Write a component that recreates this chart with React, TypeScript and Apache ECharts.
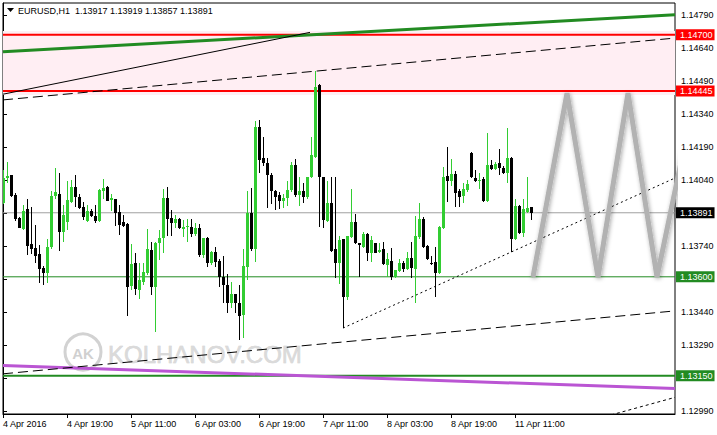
import { useEffect, useRef } from "react";
import * as echarts from "echarts";

// ---- time axis ----
const timeLabels = ["4 Apr 2016", "4 Apr 19:00", "5 Apr 11:00", "6 Apr 03:00", "6 Apr 19:00", "7 Apr 11:00", "8 Apr 03:00", "8 Apr 19:00", "11 Apr 11:00"];
const LABEL_STEP = 16;
const SLOT_COUNT = 169;

// ---- H1 candles (open / high / low / close) ----
const opens = [1.13935,1.14049,1.14063,1.13972,1.13867,1.13817,1.13908,1.13749,1.13731,1.13704,1.13640,1.13617,1.13735,1.13967,1.13976,1.13804,1.13849,1.13940,1.14008,1.13963,1.13917,1.13854,1.13899,1.13876,1.13854,1.13990,1.14008,1.13949,1.13954,1.13895,1.13849,1.13840,1.13558,1.13663,1.13540,1.13576,1.13617,1.13722,1.13554,1.13754,1.13776,1.13958,1.13867,1.13845,1.13863,1.13817,1.13826,1.13826,1.13795,1.13822,1.13699,1.13776,1.13663,1.13713,1.13672,1.13599,1.13563,1.13481,1.13522,1.13481,1.13426,1.13645,1.13890,1.13726,1.14281,1.14140,1.14117,1.14063,1.13990,1.13972,1.13945,1.13958,1.13995,1.14108,1.13972,1.13990,1.13963,1.14054,1.14145,1.14472,1.14054,1.13854,1.13935,1.13726,1.13663,1.13772,1.13508,1.13781,1.13849,1.13754,1.13735,1.13795,1.13708,1.13754,1.13713,1.13726,1.13654,1.13672,1.13599,1.13626,1.13663,1.13635,1.13685,1.13635,1.13781,1.13863,1.13740,1.13663,1.13667,1.13617,1.13822,1.14058,1.14035,1.14067,1.13990,1.13967,1.13995,1.14163,1.14049,1.14035,1.14045,1.13945,1.14108,1.14090,1.14117,1.14095,1.14072,1.14140,1.13772,1.13922,1.13799,1.13895,1.13917];
const highs = [1.14085,1.14122,1.14063,1.13981,1.13872,1.13926,1.13954,1.13917,1.13835,1.13745,1.13649,1.13772,1.13990,1.14095,1.14072,1.13926,1.14035,1.14040,1.14063,1.13976,1.13940,1.13926,1.13908,1.13926,1.13999,1.14045,1.14013,1.13976,1.13954,1.13926,1.13881,1.13845,1.13749,1.13708,1.13663,1.13663,1.13817,1.13758,1.13758,1.13813,1.13999,1.14008,1.13904,1.13881,1.13867,1.13858,1.13863,1.13863,1.13845,1.13840,1.13776,1.13781,1.13717,1.13735,1.13681,1.13695,1.13613,1.13576,1.13522,1.13563,1.13726,1.13990,1.14004,1.14308,1.14313,1.14235,1.14140,1.14072,1.13995,1.13985,1.13976,1.14035,1.14122,1.14135,1.14054,1.14026,1.14054,1.14235,1.14535,1.14476,1.14054,1.14035,1.14054,1.14054,1.13785,1.13772,1.13785,1.13999,1.13885,1.13754,1.13804,1.13799,1.13785,1.13754,1.13754,1.13758,1.13708,1.13731,1.13631,1.13681,1.13672,1.13713,1.13758,1.13876,1.13935,1.13872,1.13745,1.13695,1.13735,1.13831,1.14099,1.14190,1.14135,1.14081,1.13999,1.14026,1.14040,1.14167,1.14085,1.14072,1.14054,1.14254,1.14131,1.14122,1.14181,1.14104,1.14276,1.14145,1.13954,1.13926,1.13954,1.14054,1.13919];
const lows = [1.13931,1.14026,1.13963,1.13854,1.13822,1.13813,1.13699,1.13704,1.13663,1.13572,1.13563,1.13572,1.13726,1.13954,1.13717,1.13758,1.13813,1.13935,1.13917,1.13908,1.13858,1.13849,1.13872,1.13845,1.13849,1.13954,1.13945,1.13899,1.13831,1.13790,1.13826,1.13422,1.13540,1.13517,1.13499,1.13563,1.13608,1.13517,1.13349,1.13676,1.13708,1.13785,1.13785,1.13822,1.13817,1.13781,1.13758,1.13781,1.13785,1.13690,1.13685,1.13645,1.13654,1.13645,1.13554,1.13481,1.13435,1.13458,1.13435,1.13313,1.13322,1.13585,1.13717,1.13667,1.14072,1.14104,1.13913,1.13931,1.13904,1.13908,1.13913,1.13922,1.13985,1.13963,1.13922,1.13935,1.13954,1.14049,1.14140,1.13826,1.13822,1.13849,1.13713,1.13595,1.13567,1.13367,1.13495,1.13776,1.13749,1.13599,1.13731,1.13672,1.13667,1.13708,1.13708,1.13654,1.13599,1.13585,1.13595,1.13622,1.13622,1.13631,1.13595,1.13481,1.13772,1.13731,1.13676,1.13654,1.13508,1.13613,1.13817,1.13940,1.14013,1.13917,1.13917,1.13935,1.13985,1.14049,1.14031,1.13999,1.13940,1.13940,1.14085,1.14085,1.14063,1.14067,1.14026,1.13713,1.13767,1.13795,1.13781,1.13890,1.13857];
const closes = [1.14049,1.14058,1.13967,1.13863,1.13822,1.13899,1.13740,1.13726,1.13695,1.13635,1.13617,1.13735,1.13967,1.13985,1.13804,1.13881,1.13949,1.14008,1.13963,1.13913,1.13872,1.13899,1.13876,1.13854,1.13995,1.14004,1.13945,1.13958,1.13890,1.13835,1.13831,1.13554,1.13658,1.13545,1.13585,1.13622,1.13726,1.13554,1.13754,1.13776,1.13958,1.13863,1.13845,1.13863,1.13822,1.13826,1.13831,1.13795,1.13822,1.13699,1.13776,1.13663,1.13713,1.13667,1.13599,1.13563,1.13481,1.13522,1.13481,1.13422,1.13649,1.13890,1.13726,1.14281,1.14131,1.14117,1.14063,1.13990,1.13963,1.13945,1.13958,1.13995,1.14108,1.13972,1.13990,1.13963,1.14054,1.14154,1.14463,1.14054,1.13858,1.13935,1.13717,1.13663,1.13767,1.13508,1.13785,1.13849,1.13754,1.13745,1.13795,1.13708,1.13767,1.13708,1.13722,1.13658,1.13681,1.13599,1.13631,1.13663,1.13635,1.13685,1.13640,1.13785,1.13863,1.13735,1.13681,1.13658,1.13617,1.13826,1.14054,1.14035,1.14067,1.13981,1.13963,1.13999,1.14022,1.14054,1.14035,1.14040,1.13945,1.14108,1.14090,1.14113,1.14095,1.14072,1.14140,1.13772,1.13922,1.13799,1.13908,1.13913,1.13891];

// ---- price axis ----
const priceTicks = [1.1299, 1.1314, 1.1329, 1.1344, 1.1359, 1.1374, 1.1389, 1.1404, 1.1419, 1.1434, 1.1449, 1.1464, 1.1479];
const Y_MIN = 1.129764;
const Y_MAX = 1.148445;

// ---- horizontal levels & zone ----
const levelPrices = [1.147, 1.14445, 1.13891, 1.136, 1.1315];
const zoneTop = 1.14717;
const zoneBottom = 1.14426;

// ---- drawn objects: [bar index, price] ----
const greenTrend = [[0, 1.14623], [168, 1.14791]];
const thinTrend = [[0, 1.1443], [76.75, 1.14711]];
const upperChannel = [[0, 1.14404], [168, 1.14685]];
const lowerChannel = [[0, 1.13159], [168, 1.13445]];
const supportTrend = [[85, 1.13367], [168, 1.14049]];
const lowerDotted = [[152, 1.12972], [168, 1.13052]];
const magentaTrend = [[0, 1.13197], [168, 1.13092]];
const projection = [[132.5, 1.13599], [141, 1.14435], [148.75, 1.13599], [156.25, 1.14435], [163.5, 1.13599], [170.25, 1.14185]];

const FONT = "Liberation Sans, Arial, sans-serif";

export default function App() {
  const ref = useRef<HTMLDivElement>(null);
  useEffect(() => {
    if (!ref.current) return;
    const chart = echarts.init(ref.current, undefined, { renderer: "svg" });
    const slots = Array.from({ length: SLOT_COUNT }, (_, i) => String(i));
    const candles = opens.map((o, i) => [i, o, closes[i], lows[i], highs[i]]);
    const isLabelSlot = (index: number) => index % LABEL_STEP === 0 && index / LABEL_STEP < timeLabels.length;
    // tick labels hidden behind a level's price box in the reference
    const visibleTickLabels = priceTicks.filter((t) => !levelPrices.some((p) => Math.abs(p - t) < 0.0003));

    const levelLine = ["#FF0000", "#FF0000", "#A0A0A0", "#228B22", "#228B22"];
    const levelWidth = [2, 2, 1, 1, 2];
    const levelBox = ["#FF0000", "#FF0000", "#000000", "#228B22", "#228B22"];

    const trend = (data: number[][], color: string, width: number, type: any, z = 3) => ({
      type: "line",
      xAxisIndex: 1,
      yAxisIndex: 0,
      data,
      symbol: "none",
      silent: true,
      z,
      lineStyle: { color, width, type },
      emphasis: { disabled: true },
    });

    const levelSeries = levelPrices.map((p, i) => ({
      type: "line",
      xAxisIndex: 1,
      yAxisIndex: 0,
      data: [[0, p], [SLOT_COUNT - 1, p]],
      symbol: "none",
      silent: true,
      z: 2,
      lineStyle: { color: levelLine[i], width: levelWidth[i], type: "solid" },
      emphasis: { disabled: true },
      endLabel: {
        show: true,
        distance: 1,
        formatter: () => p.toFixed(5),
        color: "#fff",
        backgroundColor: levelBox[i],
        fontSize: 9,
        fontFamily: FONT,
        lineHeight: 10,
        padding: [1, 2, 0, 4],
      },
    }));

    const renderCandle = (_params: any, api: any) => {
      const idx = api.value(0);
      const o = api.value(1);
      const c = api.value(2);
      const l = api.value(3);
      const h = api.value(4);
      const pO = api.coord([idx, o]);
      const pC = api.coord([idx, c]);
      const pL = api.coord([idx, l]);
      const pH = api.coord([idx, h]);
      const x = Math.round(pO[0]);
      const color = c > o ? "#32CD32" : "#000000";
      const top = Math.round(Math.min(pO[1], pC[1]));
      const bot = Math.round(Math.max(pO[1], pC[1]));
      const hy = Math.round(pH[1]);
      const ly = Math.round(pL[1]);
      return {
        type: "group",
        children: [
          { type: "rect", shape: { x, y: hy, width: 1, height: Math.max(1, ly - hy) }, style: { fill: color } },
          { type: "rect", shape: { x: x - 1, y: top, width: 3, height: Math.max(1, bot - top) }, style: { fill: color } },
        ],
      };
    };

    const option: any = {
      animation: false,
      backgroundColor: "#ffffff",
      textStyle: { fontFamily: FONT },
      title: {
        text: "EURUSD,H1  1.13917 1.13919 1.13857 1.13891",
        left: 18,
        top: 6,
        padding: 0,
        textStyle: { fontSize: 9, fontWeight: "normal", color: "#000", fontFamily: FONT },
      },
      grid: { left: 3, right: 42, top: 3, bottom: 21, show: true, borderColor: "#000", borderWidth: 1, backgroundColor: "transparent" },
      xAxis: [
        {
          type: "category",
          data: slots,
          boundaryGap: false,
          axisLine: { show: true, lineStyle: { color: "#000", width: 1 } },
          axisTick: { show: true, interval: isLabelSlot, length: 4, lineStyle: { color: "#000" } },
          axisLabel: {
            interval: isLabelSlot,
            formatter: (_v: string, i: number) => timeLabels[i / LABEL_STEP] ?? "",
            align: "left",
            color: "#000",
            fontSize: 9,
            fontFamily: FONT,
            margin: 5,
          },
          splitLine: { show: false },
        },
        { type: "value", min: 0, max: SLOT_COUNT - 1, show: false },
      ],
      yAxis: {
        type: "value",
        position: "right",
        min: Y_MIN,
        max: Y_MAX,
        axisLine: { show: true, lineStyle: { color: "#000", width: 1 } },
        axisTick: { show: true, length: 4, customValues: priceTicks, lineStyle: { color: "#000" } },
        axisLabel: {
          customValues: visibleTickLabels,
          formatter: (v: number) => v.toFixed(5),
          color: "#000",
          fontSize: 9,
          fontFamily: FONT,
          margin: 6,
        },
        splitLine: { show: false },
      },
      graphic: [
        { type: "polygon", shape: { points: [[7, 8], [14, 8], [10.5, 12]] }, style: { fill: "#000" }, z: 10 },
        { type: "circle", shape: { cx: 83, cy: 352, r: 18 }, style: { fill: "#fff", stroke: "#D2D2D2", lineWidth: 3 }, z: 0, silent: true },
        {
          type: "text", x: 83, y: 353, z: 0, silent: true,
          style: { text: "AK", fill: "#D0D0D0", font: `bold 15px ${FONT}`, align: "center", verticalAlign: "middle", textAlign: "center", textVerticalAlign: "middle" },
        },
        {
          type: "text", x: 108, y: 354, z: 0, silent: true,
          style: { text: "KOLHANOV.COM", fill: "#DADADA", stroke: "#CCCCCC", lineWidth: 0.5, font: `24px ${FONT}`, verticalAlign: "middle", textVerticalAlign: "middle" },
        },
      ],
      series: [
        {
          type: "line", xAxisIndex: 1, yAxisIndex: 0, data: [], z: 1, silent: true,
          markArea: { silent: true, itemStyle: { color: "#FFEEF3" }, data: [[{ yAxis: zoneTop }, { yAxis: zoneBottom }]] },
        },
        ...levelSeries,
        trend(magentaTrend, "#BA55D3", 3, "solid"),
        trend(greenTrend, "#228B22", 3, "solid"),
        trend(thinTrend, "#000", 1, "solid"),
        trend(upperChannel, "#000", 1, [10, 5]),
        trend(lowerChannel, "#000", 1, [10, 5]),
        trend(supportTrend, "#000", 1, [2, 3]),
        trend(lowerDotted, "#000", 1, [3, 3]),
        {
          type: "custom",
          xAxisIndex: 0,
          yAxisIndex: 0,
          data: candles,
          renderItem: renderCandle,
          encode: { x: 0, y: [1, 2, 3, 4] },
          clip: true,
          silent: true,
          z: 4,
        },
        {
          type: "line",
          xAxisIndex: 1,
          yAxisIndex: 0,
          data: projection,
          symbol: "none",
          clip: false,
          silent: true,
          z: 5,
          lineStyle: { color: "#B2B2B2", width: 5, shadowBlur: 4, shadowColor: "rgba(0,0,0,0.35)", shadowOffsetX: 1, shadowOffsetY: 1 },
        },
      ],
    };
    chart.setOption(option);
    return () => chart.dispose();
  }, []);
  return <div ref={ref} style={{ position: "fixed", left: 0, top: 0, width: 717, height: 435 }} />;
}
